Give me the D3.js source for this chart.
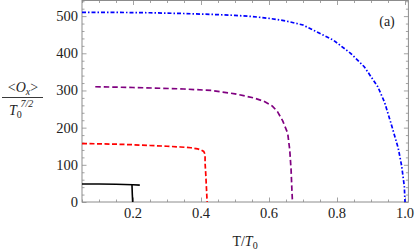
<!DOCTYPE html>
<html>
<head>
<meta charset="utf-8">
<script src="https://cdn.jsdelivr.net/npm/d3@7"></script>
<style>
html,body{margin:0;padding:0;background:#fff;}
svg{display:block;}
</style>
</head>
<body>
<svg id="chart" width="415" height="251" font-family="Liberation Serif, Times New Roman, serif"></svg>
<script>
// ---- data ----
const xTicks = [0.2, 0.4, 0.6, 0.8, 1.0];
const xTickLabels = ["0.2", "0.4", "0.6", "0.8", "1.0"];
const yTicks = [0, 100, 200, 300, 400, 500];
const yTickLabels = ["0", "100", "200", "300", "400", "500"];

const blueX = [0.05, 0.15, 0.25, 0.35, 0.45, 0.5, 0.55, 0.6, 0.65, 0.7, 0.74, 0.79, 0.84, 0.88, 0.92, 0.94, 0.96, 0.98, 0.99, 0.998, 1.0];
const blueY = [510, 510, 509, 507, 504, 502, 499, 494, 487, 476, 458, 435, 400, 364, 310, 268, 208, 145, 98, 42, 0];

const purpleX = [0.089, 0.15, 0.2, 0.28, 0.35, 0.43, 0.5, 0.555, 0.585, 0.61, 0.625, 0.64, 0.655, 0.661, 0.665, 0.667, 0.669];
const purpleY = [310, 309, 308, 306, 304, 300, 291, 280, 271, 258, 243, 219, 185, 140, 86, 40, 0];

const redX = [0.05, 0.1, 0.15, 0.2, 0.25, 0.3, 0.34, 0.37, 0.39, 0.4, 0.408, 0.412, 0.412, 0.414, 0.416, 0.418];
const redY = [157, 156.5, 155.5, 154, 152, 150, 148, 146, 143, 140, 136, 128, 105, 75, 38, 0];

const blackTopX = [0.05, 0.1, 0.15, 0.2, 0.22];
const blackTopY = [48.5, 48.3, 47.6, 46.5, 45.5];
const blackDropX = [0.197, 0.198, 0.199];
const blackDropY = [46, 20, 0];

// ---- layout ----
const L = 82, T = 0.5, B = 202;
const svg = d3.select("#chart");

const x = d3.scaleLinear().domain([0.05, 1.01]).range([L, L + (1.01 - 0.05) * 340]);
const y = d3.scaleLinear().domain([0, 542]).range([B, T]);

const axisColor = "#8c8c8c";
const textColor = "#222";
const labelFont = "14.5px";

// frame
svg.append("rect").attr("x", L).attr("y", T).attr("width", x(1.01) - L).attr("height", B - T)
  .attr("fill", "none").attr("stroke", axisColor).attr("stroke-width", 1);

const xMinor = d3.range(0.05, 1.0101, 0.05).filter(v => !xTicks.some(t => Math.abs(t - v) < 1e-6));
const yMinor = d3.range(0, 541, 20).filter(v => v % 100 !== 0);

function drawAxes() {
  const g = svg.append("g").attr("stroke", axisColor).attr("stroke-width", 0.8);
  const add = (axisFn, pos, vals, size) => g.append("g").attr("transform", pos)
    .call(axisFn.tickValues(vals).tickSize(size).tickFormat(""))
    .call(a => a.select(".domain").remove());
  add(d3.axisBottom(x), `translate(0,${B})`, xTicks, -4.5);
  add(d3.axisBottom(x), `translate(0,${B})`, xMinor, -2.5);
  add(d3.axisTop(x), `translate(0,${T})`, xTicks, -4.5);
  add(d3.axisTop(x), `translate(0,${T})`, xMinor, -2.5);
  add(d3.axisLeft(y), `translate(${L},0)`, yTicks, -4.5);
  add(d3.axisLeft(y), `translate(${L},0)`, yMinor, -2.5);
  add(d3.axisRight(y), `translate(${x(1.01)},0)`, yTicks, -4.5);
  add(d3.axisRight(y), `translate(${x(1.01)},0)`, yMinor, -2.5);
  g.selectAll("line").attr("stroke", axisColor);
}
drawAxes();

// tick labels
svg.append("g").selectAll("text").data(xTicks).join("text")
  .attr("x", d => x(d)).attr("y", 218).attr("fill", textColor)
  .attr("text-anchor", "middle").style("font-size", labelFont)
  .text((d, i) => xTickLabels[i]);
svg.append("g").selectAll("text").data(yTicks).join("text")
  .attr("x", 78).attr("y", d => y(d) + 5).attr("fill", textColor)
  .attr("text-anchor", "end").style("font-size", labelFont)
  .text((d, i) => yTickLabels[i]);

// curves
const line = d3.line().x(d => x(d[0])).y(d => y(d[1]));
const zipXY = (xs, ys) => xs.map((v, i) => [v, ys[i]]);

svg.append("path").datum(zipXY(blueX, blueY)).attr("d", line)
  .attr("fill", "none").attr("stroke", "#0000ff").attr("stroke-width", 1.7)
  .attr("stroke-dasharray", "4,2,1.5,2");
svg.append("path").datum(zipXY(purpleX, purpleY)).attr("d", line)
  .attr("fill", "none").attr("stroke", "#800080").attr("stroke-width", 1.7)
  .attr("stroke-dasharray", "5.5,3");
svg.append("path").datum(zipXY(redX, redY)).attr("d", line)
  .attr("fill", "none").attr("stroke", "#ff0000").attr("stroke-width", 1.7)
  .attr("stroke-dasharray", "5,2.5");
svg.append("path").datum(zipXY(blackTopX, blackTopY)).attr("d", line)
  .attr("fill", "none").attr("stroke", "#000").attr("stroke-width", 1.6);
svg.append("path").datum(zipXY(blackDropX, blackDropY)).attr("d", line)
  .attr("fill", "none").attr("stroke", "#000").attr("stroke-width", 1.6);

// panel label
svg.append("text").attr("x", 387).attr("y", 26).attr("text-anchor", "middle").attr("fill", textColor)
  .style("font-size", "14px").text("(a)");

// x label: T/T0
const xl = svg.append("text").attr("x", 245).attr("y", 246).attr("text-anchor", "middle")
  .attr("fill", textColor).style("font-size", "14px");
xl.append("tspan").text("T/");
xl.append("tspan").style("font-style", "italic").text("T");
xl.append("tspan").attr("dy", 3).style("font-size", "10px").text("0");

// y label: <O_x> / T0^{7/2}
const num = svg.append("text").attr("x", 23).attr("y", 92).attr("text-anchor", "middle")
  .attr("fill", textColor).style("font-size", "14px");
num.append("tspan").text("<");
num.append("tspan").style("font-style", "italic").text("O");
num.append("tspan").attr("dy", 3).style("font-size", "10px").style("font-style", "italic").text("x");
num.append("tspan").attr("dy", -3).text(">");
svg.append("line").attr("x1", 2).attr("x2", 43).attr("y1", 97.5).attr("y2", 97.5)
  .attr("stroke", textColor).attr("stroke-width", 0.9);
const den = svg.append("text").attr("x", 9).attr("y", 115).attr("fill", textColor).style("font-size", "14px");
den.append("tspan").style("font-style", "italic").text("T");
den.append("tspan").attr("dy", 3).style("font-size", "10px").text("0");
den.append("tspan").attr("x", 20.5).attr("dy", -11).style("font-size", "10px").style("font-style", "italic").text("7/2");
</script>
</body>
</html>
